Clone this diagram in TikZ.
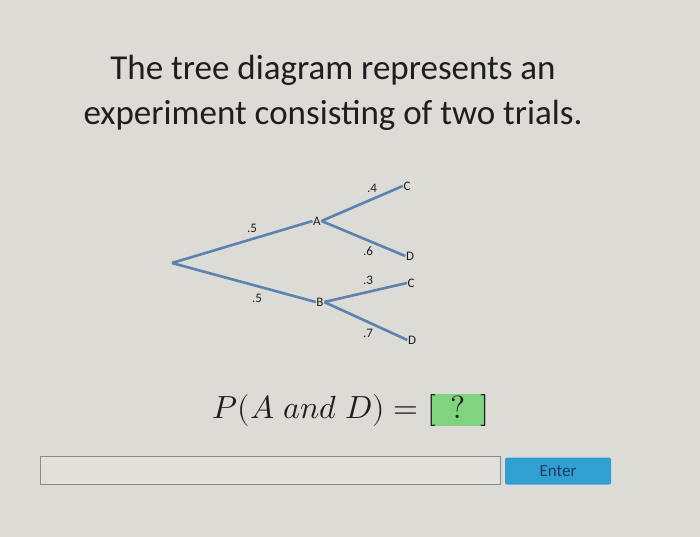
\documentclass[tikz,border=0pt]{standalone}
\usepackage{fontspec}
\setmainfont{Carlito}
\usepackage{unicode-math}
\setmathfont{Latin Modern Math}
\definecolor{bg}{RGB}{221,219,213}
\definecolor{branch}{RGB}{92,130,178}
\definecolor{ink}{RGB}{30,30,30}
\definecolor{qgreen}{RGB}{128,212,128}
\definecolor{btn}{RGB}{48,160,210}
\definecolor{btntext}{RGB}{25,60,95}
\definecolor{boxfill}{RGB}{226,224,218}
\definecolor{boxline}{RGB}{140,140,135}
\begin{document}
\begin{tikzpicture}[x=1pt,y=-1pt,
  lab/.style={font=\fontsize{13}{14}\selectfont,text=ink,inner sep=0.5pt},
  br/.style={draw=branch,line width=2.6pt},
  title/.style={font=\fontsize{35}{40}\selectfont,text=ink,align=center,inner sep=0pt}]
\useasboundingbox (0,0) rectangle (700,537);
\fill[bg] (0,0) rectangle (700,537);
\node[title] (t1) at (333,70) {The tree diagram represents an};
\node[title] (t2) at (333,115) {experiment consisting of two trials.};
% tree
\coordinate (root) at (172,263);
\node[lab] (A) at (317,221) {A};
\node[lab] (B) at (320,302) {B};
\node[lab] (C1) at (407,186) {C};
\node[lab] (D1) at (410,256) {D};
\node[lab] (C2) at (411,283) {C};
\node[lab] (D2) at (412,340) {D};
\node[lab] (p4) at (372,188) {.4};
\node[lab] (p6) at (368,251) {.6};
\node[lab] (p3) at (368,280) {.3};
\node[lab] (p7) at (368,333) {.7};
\node[lab] (p5a) at (252,228) {.5};
\node[lab] (p5b) at (257,298) {.5};
\draw[br] (root) -- (A.west);
\draw[br] (root) -- (B.west);
\draw[br] (A.east) -- (C1.west);
\draw[br] (A.east) -- (D1.west);
\draw[br] (B.east) -- (C2.west);
\draw[br] (B.east) -- (D2.west);
% equation
\fill[qgreen] (432,394) rectangle (484,426);
\node[font=\fontsize{32}{36}\selectfont,text=ink,inner sep=0pt] (eq) at (351,410) {$P(A\;\symit{and}\;D)=[\;\,?\;\,]$};
% input
\node[draw=boxline,fill=boxfill,line width=1pt,minimum width=460pt,minimum height=28pt,inner sep=0pt] (inp) at (270,470) {};
\node[fill=btn,rounded corners=2pt,minimum width=106pt,minimum height=27pt,inner sep=0pt,text=btntext,font=\fontsize{17}{20}\selectfont] (enter) at (558,471) {Enter};
\end{tikzpicture}
\end{document}
